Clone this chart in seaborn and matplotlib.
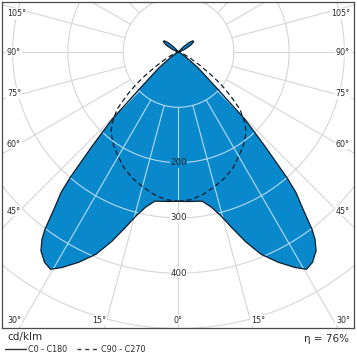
import numpy as np
import matplotlib
matplotlib.use("Agg")
import matplotlib.pyplot as plt
import seaborn as sns
from matplotlib.lines import Line2D

# ---- data ----
gamma_c0 = [0, 4, 9, 12, 14.6, 16.8, 19.4, 22.2, 25.4, 28.4, 30.5, 32.5, 34.7,
            36.1, 37.0, 38.5, 39.9, 40.8, 42.5, 44.6, 46.5, 51, 55, 60, 70, 90,
            108, 114, 119, 124, 128, 132, 136, 140, 145, 180]
cd_c0 = [270, 271, 273, 287, 307, 331, 363, 395, 421, 443, 456, 451, 437,
         419, 401, 360, 331, 300, 232, 172, 99, 46, 18, 6, 2, 0,
         4, 13, 25, 33, 33, 25, 13, 4, 0, 0]
gamma_c90 = [0, 5, 10, 15, 20, 25, 30, 35, 40, 43, 47, 50, 52.5, 55, 58, 63, 70, 80, 90]
cd_c90 = [270, 268, 261, 252, 243, 232, 218, 205, 190, 176, 152, 122, 98, 72, 46, 22, 8, 2, 0]
ring_values = [100, 200, 300, 400, 500, 600]
ring_labels = ["200", "300", "400"]
side_angle_labels = ["105°", "90°", "75°", "60°", "45°", "30°"]
bottom_angle_labels = ["15°", "0°", "15°"]
unit_label = "cd/klm"
legend_labels = ["C0 - C180", "C90 - C270"]
efficiency_label = "η = 76%"

sns.set_style("white")
plt.rcParams['font.family'] = ['DejaVu Sans']

BLUE = "#0a88cc"
DARK = "#0f1c2a"
GRID_OUT = "#d6d6d6"
GRID_IN = "#b5dcf3"
TXT = "#2a2a2a"

W = 357
fig = plt.figure(figsize=(3.57, 3.57), dpi=100)
CX, CY, S = 178.5, 52.0, 0.553
L, R, T, B = 2, 354, 2, 328
ax = fig.add_axes([L / W, 1 - B / W, (R - L) / W, (B - T) / W])
ax.set_xlim((L - CX) / S, (R - CX) / S)
ax.set_ylim(-(B - CY) / S, -(T - CY) / S)
ax.set_xticks([])
ax.set_yticks([])
for sp in ax.spines.values():
    sp.set_color("#4a4a4a")
    sp.set_linewidth(0.9)


def px(xp, yp):
    return (xp - CX) / S, -(yp - CY) / S


def curve(gammas, vals):
    g = np.radians(np.asarray(gammas, float))
    r = np.asarray(vals, float)
    xr = r * np.sin(g)
    yr = -r * np.cos(g)
    x = np.concatenate([xr, -xr[::-1][1:]])
    y = np.concatenate([yr, yr[::-1][1:]])
    return x, y


def draw_grid(color, zorder, clip=None):
    th = np.linspace(0, 2 * np.pi, 721)
    arts = []
    for rv in ring_values:
        arts += ax.plot(rv * np.sin(th), rv * np.cos(th), color=color, lw=0.8, zorder=zorder)
    for a in np.arange(0, 360, 15):
        t = np.radians(a)
        arts += ax.plot([100 * np.sin(t), 900 * np.sin(t)], [-100 * np.cos(t), -900 * np.cos(t)],
                        color=color, lw=0.8, zorder=zorder)
    if clip is not None:
        for a_ in arts:
            a_.set_clip_path(clip)


draw_grid(GRID_OUT, 1)

x0, y0 = curve(gamma_c0, cd_c0)
poly = ax.fill(x0, y0, color=BLUE, lw=0, zorder=2)[0]
draw_grid(GRID_IN, 3, clip=poly)

sns.lineplot(x=x0, y=y0, sort=False, estimator=None, color=DARK, lw=0.9, ax=ax, zorder=4)
x9, y9 = curve(gamma_c90, cd_c90)
sns.lineplot(x=x9, y=y9, sort=False, estimator=None, color=DARK, lw=0.9,
             linestyle=(0, (4, 2.5)), ax=ax, zorder=4)

for lab in ring_labels:
    v = float(lab)
    ax.text(0, -v, lab, ha="center", va="center", fontsize=6.2, color=TXT, zorder=6,
            bbox=dict(facecolor=BLUE if v < 270 else "white", edgecolor="none", pad=0.4))

side_y = [13.5, 52, 93.5, 144, 211, 320]
for lab, yp in zip(side_angle_labels, side_y):
    for xp, ha in ((7, "left"), (350, "right")):
        ax.text(*px(xp, yp), lab, ha=ha, va="center", fontsize=5.8, color=TXT, zorder=6,
                bbox=dict(facecolor="white", edgecolor="none", pad=0.6))
for lab, xp in zip(bottom_angle_labels, [99, 178.5, 258]):
    ax.text(*px(xp, 320), lab, ha="center", va="center", fontsize=5.8, color=TXT, zorder=6,
            bbox=dict(facecolor="white", edgecolor="none", pad=0.6))

fig.text(7 / W, 1 - 337 / W, unit_label, fontsize=7.5, color=TXT, va="center", ha="left")
fig.text(349 / W, 1 - 339 / W, efficiency_label, fontsize=7.5, color=TXT, va="center", ha="right")
ly = 1 - 349 / W
fig.add_artist(Line2D([5 / W, 26 / W], [ly, ly], color="#333333", lw=1.0))
fig.text(28 / W, ly, legend_labels[0], fontsize=5.8, color=TXT, va="center", ha="left")
fig.add_artist(Line2D([77 / W, 97 / W], [ly, ly], color="#333333", lw=1.0, linestyle=(0, (2.8, 2.8))))
fig.text(101 / W, ly, legend_labels[1], fontsize=5.8, color=TXT, va="center", ha="left")

fig.savefig("out.png", dpi=100)
